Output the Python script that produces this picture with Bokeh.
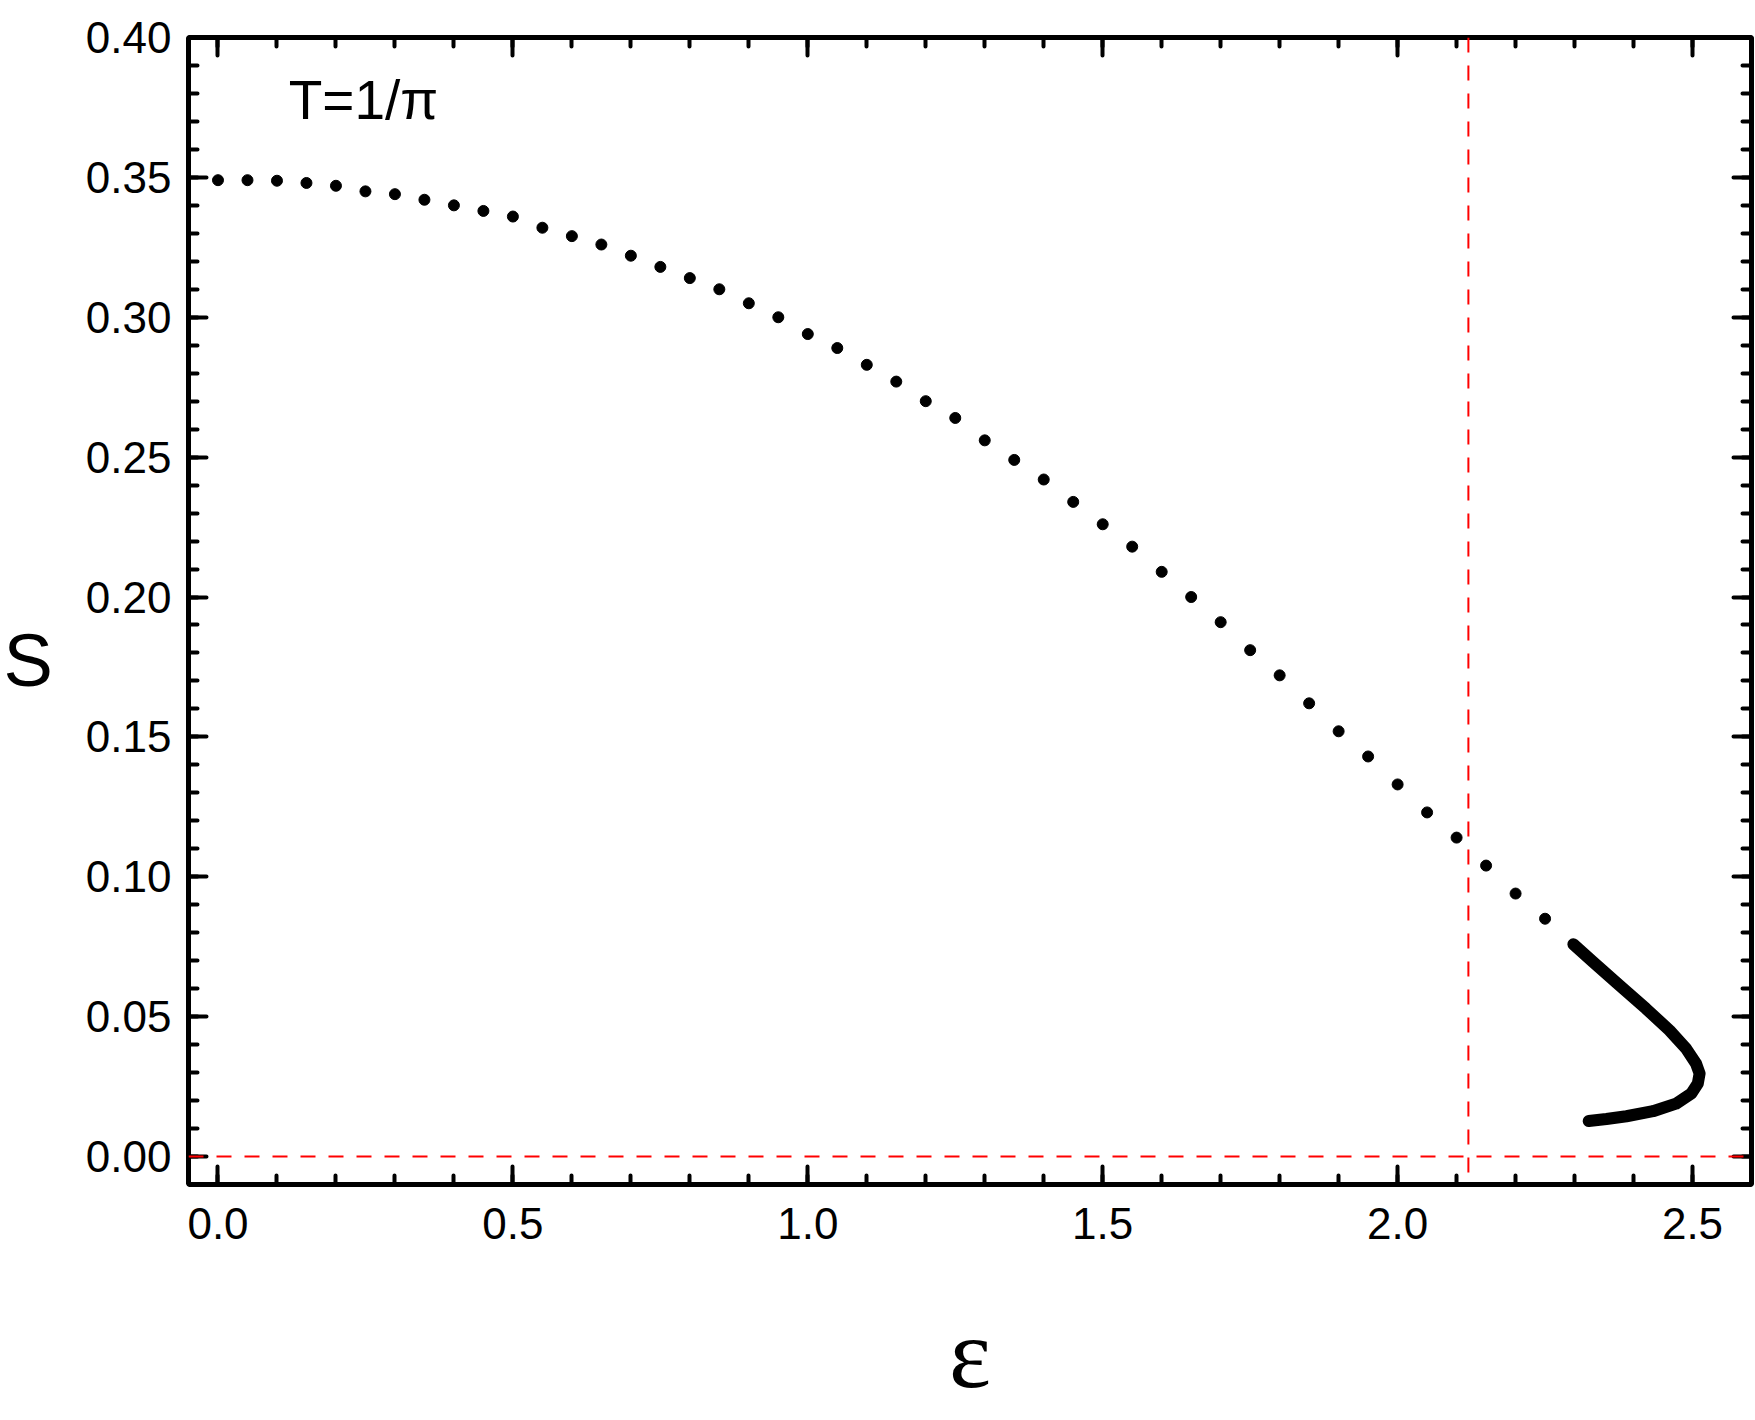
from bokeh.plotting import figure
from bokeh.models import (Span, Label, LinearAxis, SingleIntervalTicker, PrintfTickFormatter,
                          CustomJSTickFormatter, Range1d)
from bokeh.embed import file_html
from bokeh.resources import INLINE

# --- data ---
eps_dots = [0.00, 0.05, 0.10, 0.15, 0.20, 0.25, 0.30, 0.35, 0.40, 0.45,
            0.50, 0.55, 0.60, 0.65, 0.70, 0.75, 0.80, 0.85, 0.90, 0.95,
            1.00, 1.05, 1.10, 1.15, 1.20, 1.25, 1.30, 1.35, 1.40, 1.45,
            1.50, 1.55, 1.60, 1.65, 1.70, 1.75, 1.80, 1.85, 1.90, 1.95,
            2.00, 2.05, 2.10, 2.15, 2.20, 2.25]
s_dots = [0.349, 0.349, 0.3488, 0.348, 0.347, 0.345, 0.344, 0.342, 0.340, 0.338,
          0.336, 0.332, 0.329, 0.326, 0.322, 0.318, 0.314, 0.310, 0.305, 0.300,
          0.294, 0.289, 0.283, 0.277, 0.270, 0.264, 0.256, 0.249, 0.242, 0.234,
          0.226, 0.218, 0.209, 0.200, 0.191, 0.181, 0.172, 0.162, 0.152, 0.143,
          0.133, 0.123, 0.114, 0.104, 0.094, 0.085]

eps_curve = [2.298, 2.331, 2.376, 2.421, 2.461, 2.489, 2.506, 2.512, 2.509,
             2.498, 2.472, 2.433, 2.388, 2.354, 2.324]
s_curve = [0.0759, 0.0696, 0.0612, 0.0529, 0.0451, 0.0386, 0.0332, 0.0297, 0.0261,
           0.0225, 0.0189, 0.0162, 0.0144, 0.0134, 0.0127]

eps_critical = 2.12
s_zero = 0.0

x_range = (-0.05, 2.6)
y_range = (-0.01, 0.40)

FONT = "Liberation Sans"

p = figure(width=1755, height=1416, output_backend="svg", toolbar_location=None,
           x_range=Range1d(*x_range), y_range=Range1d(*y_range),
           min_border_left=188, min_border_right=4, min_border_top=37, min_border_bottom=232,
           x_axis_location=None, y_axis_location=None)
p.grid.visible = False
p.outline_line_color = None
p.background_fill_color = "white"
p.border_fill_color = "white"

blank = CustomJSTickFormatter(code="return ''")


def style_axis(ax, interval, fmt, show_labels):
    ax.ticker = SingleIntervalTicker(interval=interval, num_minor_ticks=5)
    ax.axis_line_width = 5
    ax.axis_line_color = "black"
    ax.major_tick_in = 18
    ax.major_tick_out = 0
    ax.minor_tick_in = 9
    ax.minor_tick_out = 0
    ax.major_tick_line_width = 4
    ax.minor_tick_line_width = 4
    ax.major_tick_line_cap = "round"
    ax.minor_tick_line_cap = "round"
    ax.major_label_text_font = FONT
    ax.major_label_text_font_size = "44px"
    ax.major_label_text_color = "black"
    ax.axis_label_text_color = "black"
    if show_labels:
        ax.formatter = PrintfTickFormatter(format=fmt)
    else:
        ax.formatter = blank
        ax.major_label_standoff = 0


xb = LinearAxis()
style_axis(xb, 0.5, "%.1f", True)
xb.major_label_standoff = 23
xb.axis_label = "ε"
xb.axis_label_text_font = "Liberation Serif"
xb.axis_label_text_font_style = "normal"
xb.axis_label_text_font_size = "100px"
xb.axis_label_standoff = 56
p.add_layout(xb, "below")

xt = LinearAxis()
style_axis(xt, 0.5, "%.1f", False)
p.add_layout(xt, "above")

yl = LinearAxis()
style_axis(yl, 0.05, "%.2f", True)
yl.major_label_standoff = 17
yl.axis_label = "\nS"
yl.axis_label_text_font = FONT
yl.axis_label_text_font_style = "normal"
yl.axis_label_text_font_size = "74px"
yl.axis_label_standoff = 30
try:
    yl.axis_label_orientation = "horizontal"
except AttributeError:
    pass
p.add_layout(yl, "left")

yr = LinearAxis()
style_axis(yr, 0.05, "%.2f", False)
p.add_layout(yr, "right")

# reference lines
p.add_layout(Span(location=eps_critical, dimension="height", line_color="red",
                  line_width=2, line_dash="15 13"))
p.add_layout(Span(location=s_zero, dimension="width", line_color="red",
                  line_width=2, line_dash="15 13"))

# data
p.scatter(eps_dots, s_dots, size=11, color="black")
p.line(eps_curve, s_curve, line_width=12, line_color="black", line_cap="round", line_join="round")

# texts
p.add_layout(Label(x=0.12, y=0.3777, text="T=1/π", text_font=FONT, text_font_size="55px",
                   text_baseline="alphabetic", text_align="left", text_color="black"))

open("out.html", "w").write(file_html(p, INLINE))
